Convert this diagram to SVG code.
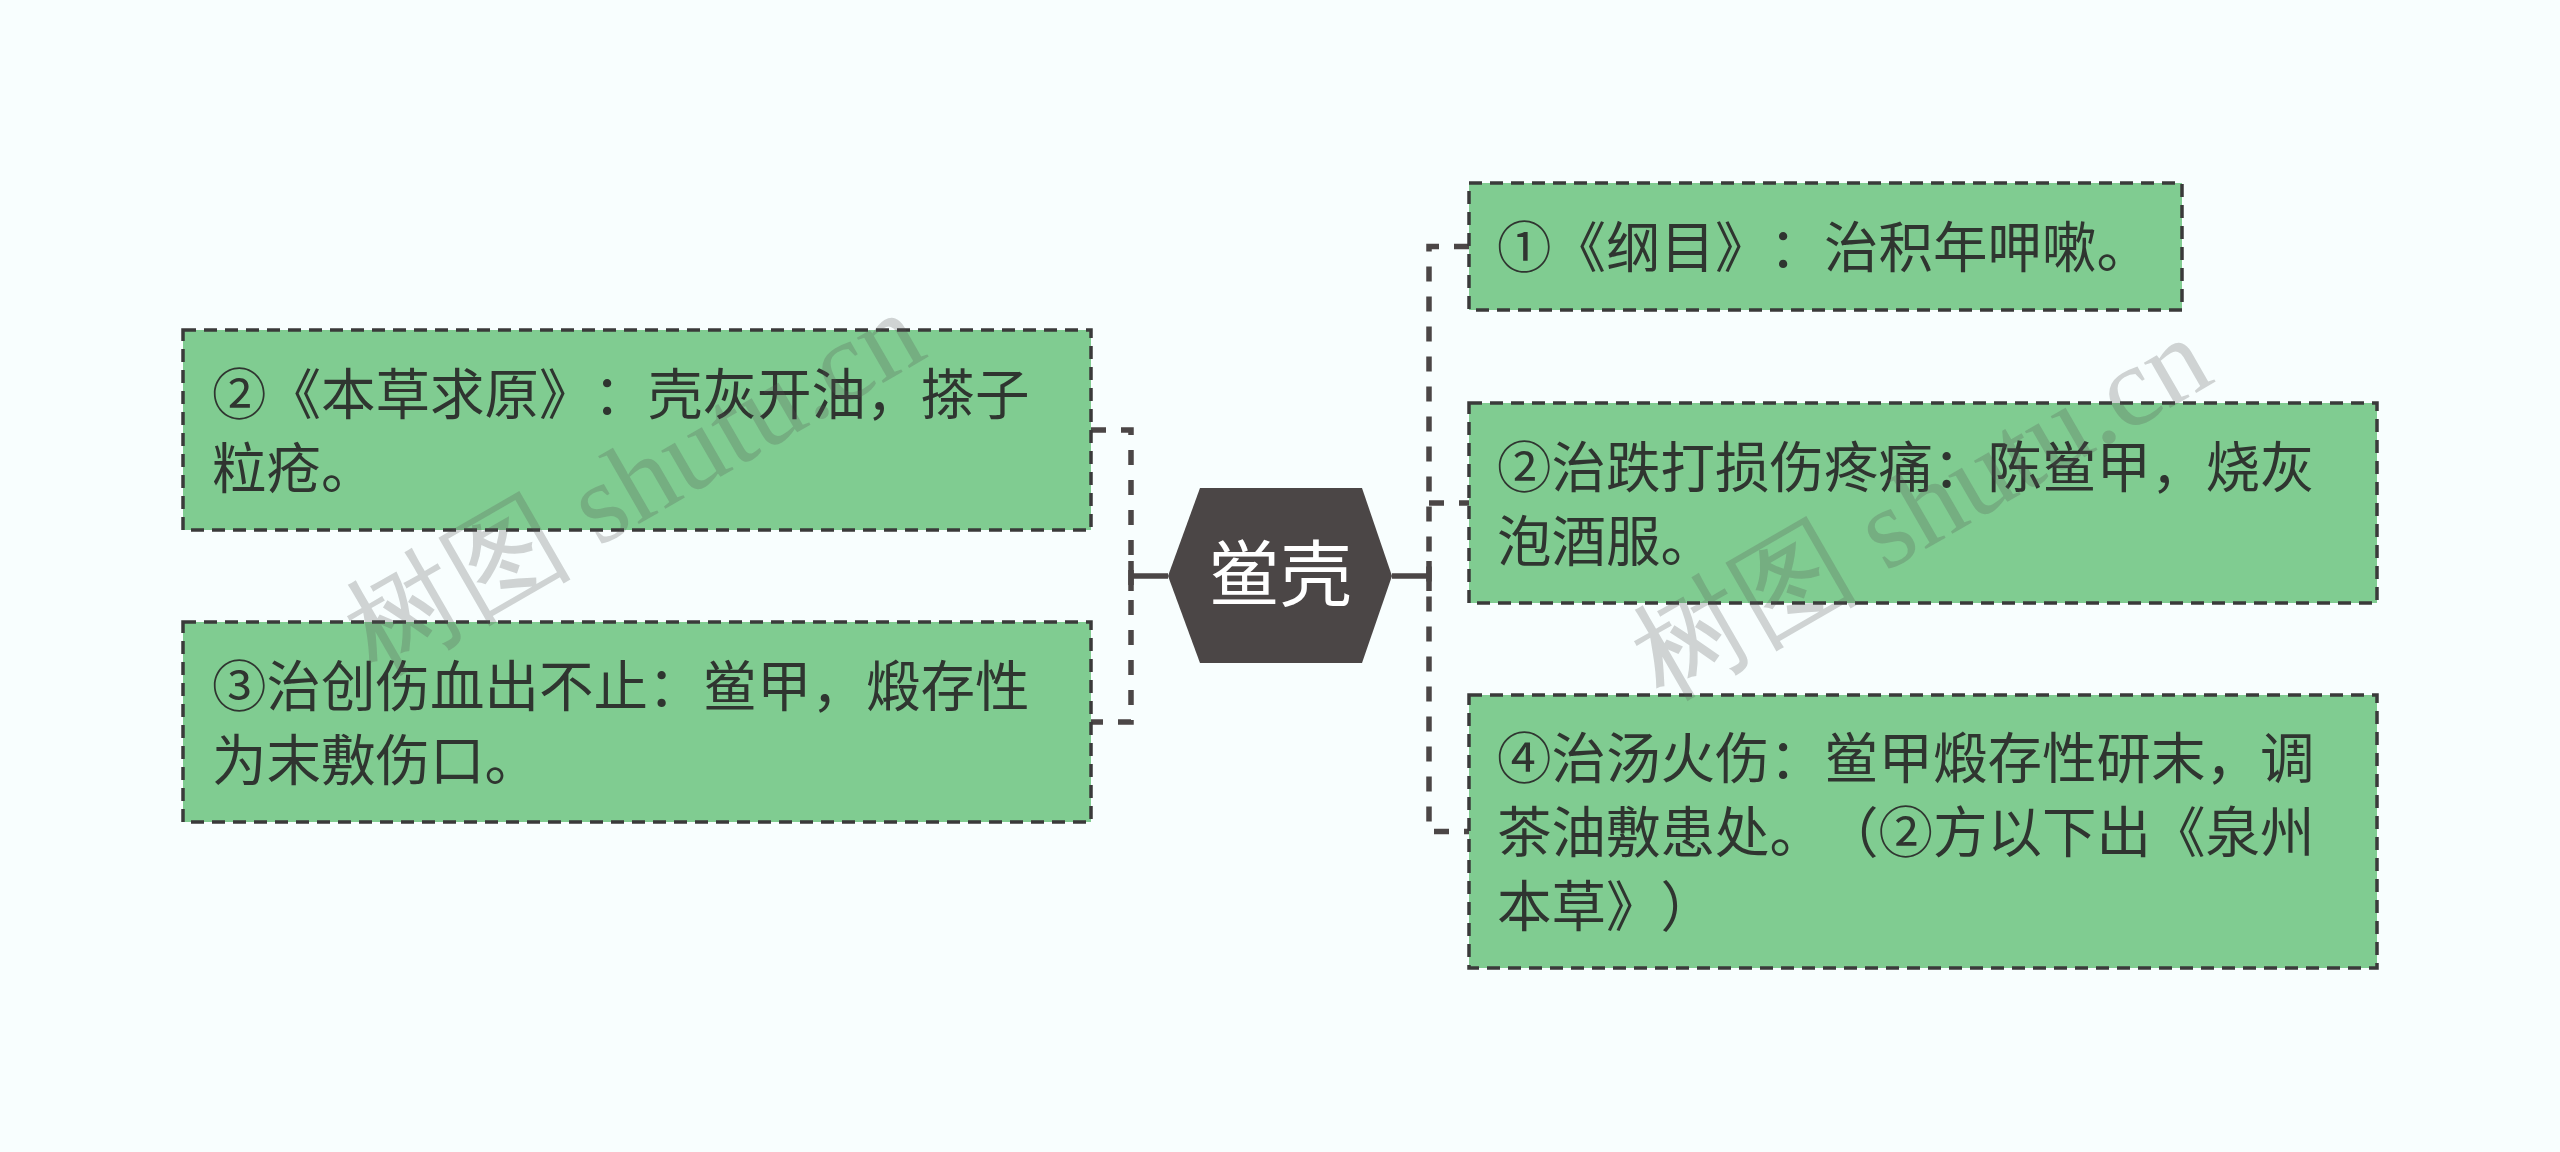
<svg xmlns="http://www.w3.org/2000/svg" width="2560" height="1152" viewBox="0 0 2560 1152">
<style>
.bg{fill:#f8fefe}
.box{fill:#80cc91;stroke:#3a3a3a;stroke-width:3.5;stroke-dasharray:13 8}
.t{font-family:"Noto Sans CJK SC","Noto Sans",sans-serif;font-size:54.5px;fill:#2f3530;text-spacing-trim:space-all;font-feature-settings:"fwid" 1}
.hex{fill:#4b4646}
.ht{font-family:"Noto Sans CJK SC","Noto Sans",sans-serif;font-size:72px;fill:#ffffff;text-anchor:middle}
.dash{fill:none;stroke:#4b4646;stroke-width:5.5;stroke-dasharray:15 15}
.solid{fill:none;stroke:#4b4646;stroke-width:5.5}
.wm{font-family:"Liberation Serif",serif;font-size:114px;fill:#555;fill-opacity:0.25}
</style>
<rect class="bg" x="0" y="0" width="2560" height="1152"/>
<g id="connectors">
<path class="dash" d="M1091,430 H1131 V722 H1091"/>
<path class="solid" d="M1168,576 H1131 M1131,561 V591"/>
<path class="dash" d="M1469,246.5 H1429 V831.5 H1469"/>
<path class="dash" d="M1429,503 H1469"/>
<path class="solid" d="M1392,576 H1429 M1429,561 V591"/>
</g>
<g id="center">
<polygon class="hex" points="1168,576 1200,488 1362,488 1392,576 1362,663 1200,663"/>
<text class="ht" x="1280" y="600">鲎壳</text>
</g>
<g id="left1">
<rect class="box" x="183" y="330" width="908" height="200"/>
<text class="t" x="212" y="414">②《本草求原》：壳灰开油，搽子</text>
<text class="t" x="212" y="488">粒疮。</text>
</g>
<g id="left2">
<rect class="box" x="183" y="622" width="908" height="200"/>
<text class="t" x="212" y="705.5">③治创伤血出不止：鲎甲，煅存性</text>
<text class="t" x="212" y="779.5">为末敷伤口。</text>
</g>
<g id="right1">
<rect class="box" x="1469" y="183" width="713" height="127"/>
<text class="t" x="1497" y="266.5">①《纲目》：治积年呷嗽。</text>
</g>
<g id="right2">
<rect class="box" x="1469" y="403" width="908" height="200"/>
<text class="t" x="1497" y="486.5">②治跌打损伤疼痛：陈鲎甲，烧灰</text>
<text class="t" x="1497" y="560.5">泡酒服。</text>
</g>
<g id="right3">
<rect class="box" x="1469" y="695" width="908" height="273"/>
<text class="t" x="1497" y="778">④治汤火伤：鲎甲煅存性研末，调</text>
<text class="t" x="1497" y="852">茶油敷患处。（②方以下出《泉州</text>
<text class="t" x="1497" y="926">本草》）</text>
</g>
<g id="watermark">
<text class="wm" transform="translate(640,493) rotate(-30)" text-anchor="middle" dominant-baseline="middle">树图 shutu.cn</text>
<text class="wm" transform="translate(1927,518) rotate(-30)" text-anchor="middle" dominant-baseline="middle">树图 shutu.cn</text>
</g>
</svg>
